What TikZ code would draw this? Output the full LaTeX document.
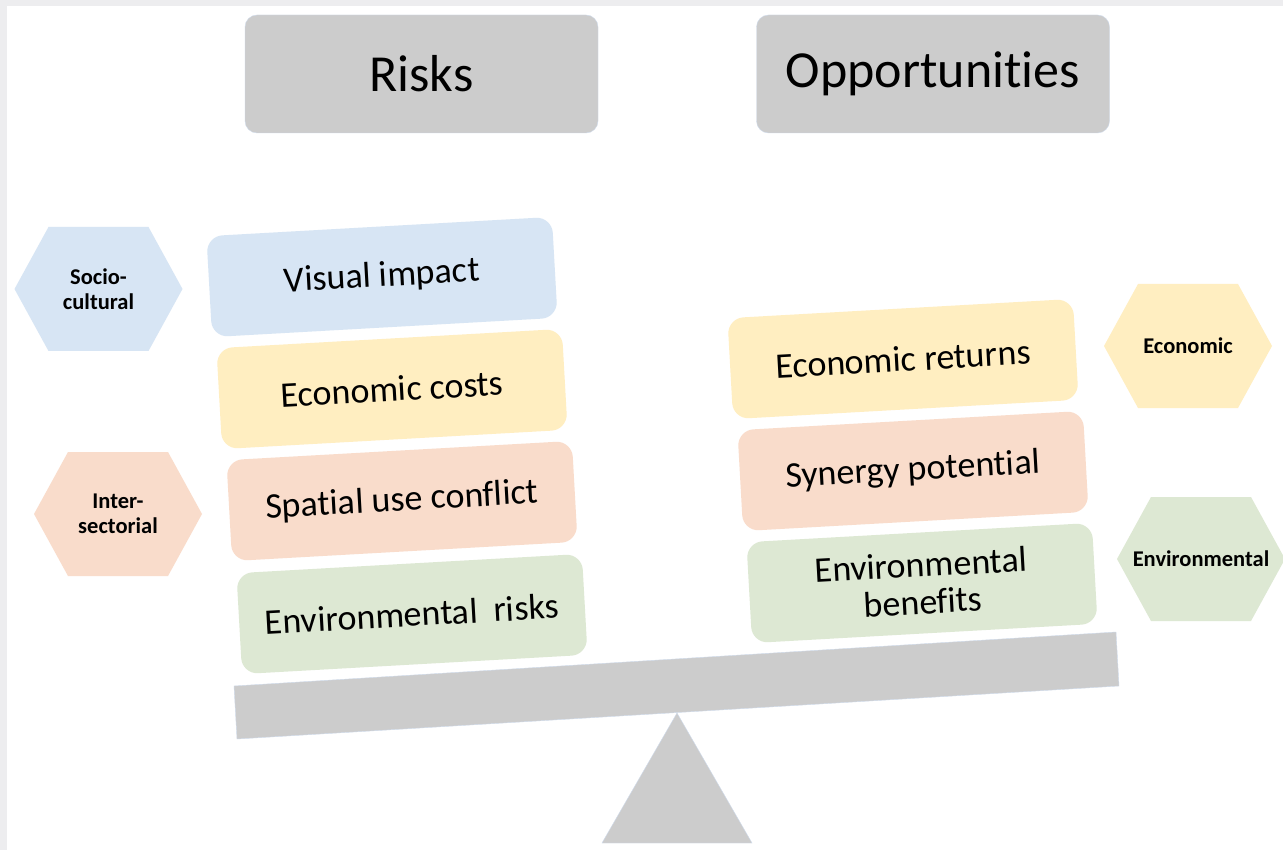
\documentclass[tikz,border=0pt]{standalone}
\usepackage{fontspec}
\setmainfont{Carlito}[Ligatures=CommonOff, Contextuals=AlternateOff]
\definecolor{boxgray}{HTML}{CCCCCC}
\definecolor{edgeblue}{HTML}{CFDBEC}
\definecolor{lblue}{HTML}{D7E5F4}
\definecolor{lyellow}{HTML}{FFEEC1}
\definecolor{lpeach}{HTML}{F9DCCB}
\definecolor{lgreen}{HTML}{DDE8D3}
\definecolor{pageframe}{HTML}{EDEDEF}
\tikzset{
  title/.style={fill=boxgray, draw=edgeblue, rounded corners=12pt,
    minimum width=353pt, minimum height=118pt, font=\fontsize{52}{60}\selectfont},
  item/.style={fill=#1, rounded corners=16pt, minimum width=346pt,
    minimum height=101pt, rotate=3.2, align=center, font=\fontsize{36}{37}\selectfont},
  hexlabel/.style={font=\bfseries\fontsize{22.5}{25}\selectfont, align=center}
}

\begin{document}
\begin{tikzpicture}[x=1pt,y=-1pt]
  \useasboundingbox (0,0) rectangle (1283,850);
  \fill[pageframe] (0,0) rectangle (1283,850);
  \fill[white] (7,6) rectangle (1283,850);

  % headings
  \node[title] (risks) at (421.5,74) {Risks};
  \node[title] (opps) at (933,74) {Opportunities};

  % hexagons
  \foreach \name/\x/\y/\col/\txt in {socio/98.5/289/lblue/{Socio-\\cultural},
      inter/118/514/lpeach/{Inter-\\sectorial},
      econ/1188/346/lyellow/{Economic},
      env/1201/559/lgreen/{Environmental}}{
    \fill[\col] (\x,\y) ++(-84,0) -- ++(34,-62) -- ++(100,0) -- ++(34,62)
      -- ++(-34,62) -- ++(-100,0) -- cycle;
    \node[hexlabel] (\name) at (\x,\y) {\txt};
  }

  % seesaw
  \filldraw[fill=boxgray, draw=edgeblue] (234,686) -- (1116,632) -- (1119,686) -- (237,739) -- cycle;
  \filldraw[fill=boxgray, draw=edgeblue] (677,713) -- (752,843) -- (602,843) -- cycle;

  % risks side
  \node[item=lblue] (visual) at (382,277) {Visual impact};
  \node[item=lyellow] (costs) at (392,389) {Economic costs};
  \node[item=lpeach] (conflict) at (402,501) {Spatial use conflict};
  \node[item=lgreen] (envrisks) at (412,614) {Environmental~ risks};

  % opportunities side
  \node[item=lyellow] (returns) at (903,359) {Economic returns};
  \node[item=lpeach] (synergy) at (913,471) {Synergy potential};
  \node[item=lgreen] (benefits) at (922,583) {Environmental\\benefits};
\end{tikzpicture}
\end{document}
